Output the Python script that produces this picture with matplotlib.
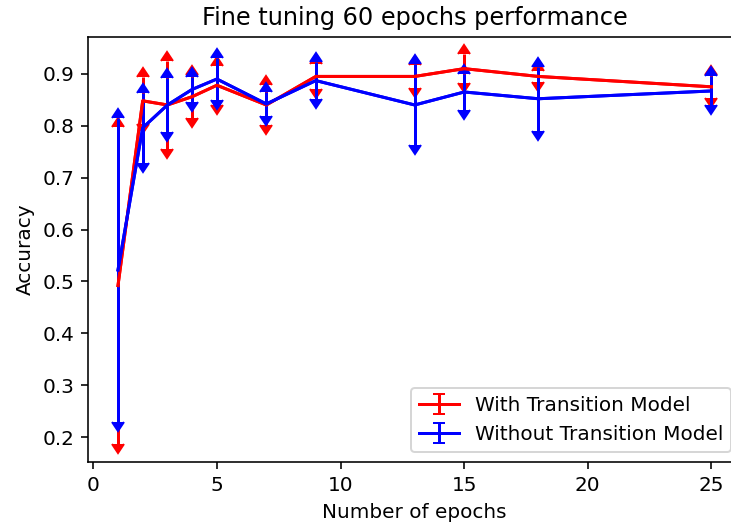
import matplotlib
matplotlib.use("Agg")
import matplotlib.pyplot as plt
import numpy as np

# epochs used for fine tuning
epochs = [1, 2, 3, 4, 5, 7, 9, 13, 15, 18, 25]

# accuracy with transition model (mean, spread)
with_tm = [0.492, 0.848, 0.840, 0.856, 0.878, 0.840, 0.895, 0.895, 0.910, 0.895, 0.875]
with_tm_err = [0.305, 0.045, 0.085, 0.042, 0.038, 0.038, 0.024, 0.022, 0.028, 0.010, 0.022]

# accuracy without transition model (mean, spread)
without_tm = [0.522, 0.796, 0.840, 0.870, 0.890, 0.842, 0.887, 0.840, 0.865, 0.852, 0.867]
without_tm_err = [0.292, 0.068, 0.052, 0.024, 0.040, 0.023, 0.036, 0.078, 0.035, 0.062, 0.028]

DPI = 144
fig = plt.figure(figsize=(731 / DPI, 524 / DPI), dpi=DPI)
ax = fig.add_axes([0.1208, 0.1183, 0.893, 0.8111])

# upper half with up arrows, lower half with down arrows
for y, err, col, lab in [(with_tm, with_tm_err, 'red', 'With Transition Model'),
                         (without_tm, without_tm_err, 'blue', 'Without Transition Model')]:
    for kw in [dict(lolims=True, label=lab), dict(uplims=True)]:
        cont = ax.errorbar(epochs, y, yerr=err, color=col, capsize=3, **kw)
        # drop the flat caps left at the data points, keep the arrows
        for cl in cont[1]:
            if cl.get_marker() == '_':
                cl.set_data([], [])

ax.set_xlim(-0.2, 26.2)
ax.set_ylim(0.152, 0.971)
ax.set_xticks([0, 5, 10, 15, 20, 25])

ax.set_title('Fine tuning 60 epochs performance')
ax.set_xlabel('Number of epochs')
ax.set_ylabel('Accuracy')
ax.legend(loc='lower right')

fig.savefig('out.png', dpi=DPI)
